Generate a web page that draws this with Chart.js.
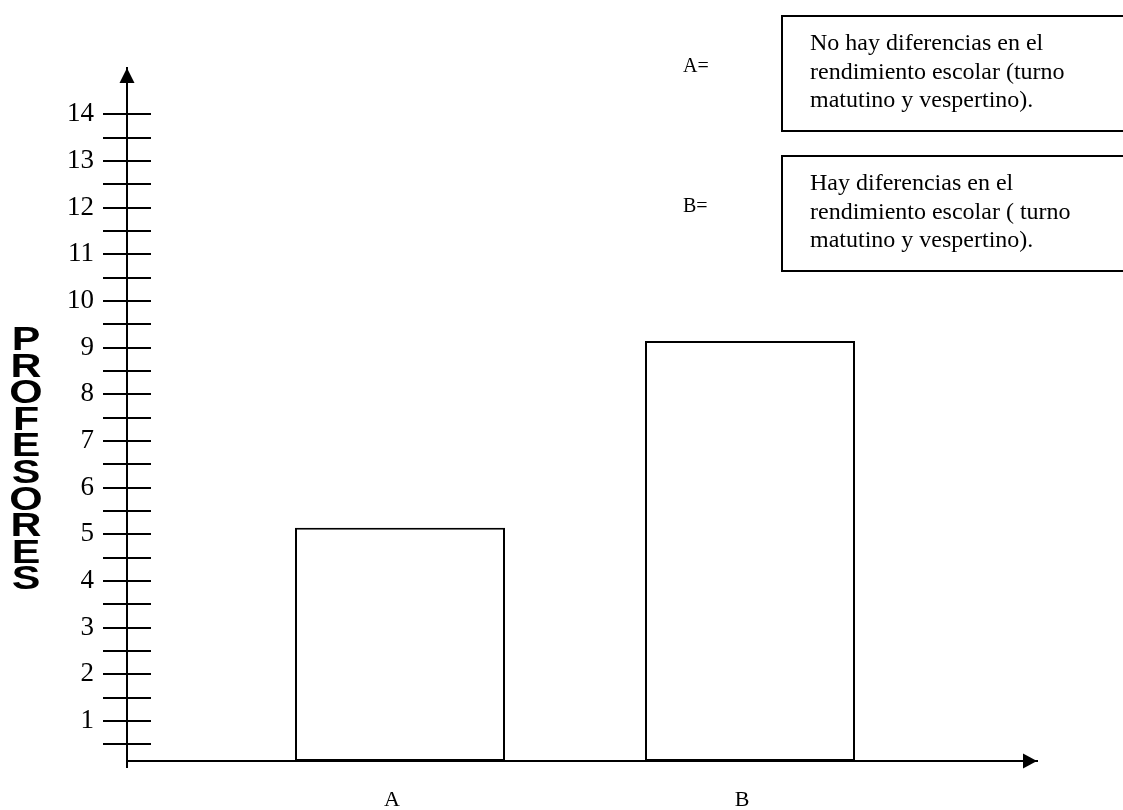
<!DOCTYPE html>
<html>
<head>
<meta charset="utf-8">
<script src="https://cdn.jsdelivr.net/npm/chart.js@4"></script>
<style>
    body { margin: 0; background: #ffffff; }
    #wrap { position: relative; width: 1123px; height: 810px; overflow: hidden; background: #ffffff; }
    #chart { position: absolute; left: 0; top: 0; }
    .key { position: absolute; left: 683px; font: 20px "Liberation Serif", serif; line-height: 20px; color: #000; }
    .box {
        position: absolute; left: 781px; width: 400px; height: 102px;
        border: 2px solid #000; box-sizing: content-box;
        padding: 11px 0 0 27px;
        font: 24px "Liberation Serif", serif; line-height: 28.5px; color: #000;
    }
    #ytitle {
        position: absolute; left: 6px; top: 326px; width: 40px;
        font: bold 33px "Liberation Sans", Arial, sans-serif; line-height: 26.6px;
        text-align: center; color: #000;
        transform: scaleX(1.3); transform-origin: center top;
    }
    #ytitle span { display: block; }
</style>
</head>
<body>
<div id="wrap">
    <canvas id="chart" width="1123" height="810"></canvas>
    <div class="key" style="top:55px">A=</div>
    <div class="box" style="top:15px">No hay diferencias en el<br>rendimiento escolar (turno<br>matutino y vespertino).</div>
    <div class="key" style="top:195px">B=</div>
    <div class="box" style="top:155px">Hay diferencias en el<br>rendimiento escolar ( turno<br>matutino y vespertino).</div>
    <div id="ytitle"></div>
</div>
<script>
// chart data
const categories = ['A', 'B'];
const values = [5, 9];
const yTickLabels = ['1', '2', '3', '4', '5', '6', '7', '8', '9', '10', '11', '12', '13', '14'];
const yTitle = 'PROFESORES';

document.getElementById('ytitle').innerHTML =
    yTitle.split('').map(ch => '<span>' + ch + '</span>').join('');

// the hand drawn axis sits slightly below the bar base
const tickShift = -0.143;
const tickLen = 24;

// right half of the crossing tick marks and the arrow heads
const axisArrows = {
    id: 'axisArrows',
    afterDraw(chart) {
        const ctx = chart.ctx;
        const y = chart.scales.y;
        const area = chart.chartArea;
        const ax = y.right;
        ctx.save();
        ctx.strokeStyle = '#000';
        ctx.fillStyle = '#000';
        ctx.lineWidth = 2;
        ctx.beginPath();
        y.ticks.forEach(t => {
            const py = Math.round(y.getPixelForValue(t.value));
            ctx.moveTo(ax, py);
            ctx.lineTo(ax + tickLen, py);
        });
        // little overhang of the vertical axis under the x axis
        ctx.moveTo(ax, area.bottom);
        ctx.lineTo(ax, area.bottom + 7);
        ctx.stroke();

        ctx.beginPath();
        ctx.moveTo(ax, area.top);
        ctx.lineTo(ax - 7.5, area.top + 15);
        ctx.lineTo(ax + 7.5, area.top + 15);
        ctx.closePath();
        ctx.fill();

        ctx.beginPath();
        ctx.moveTo(area.right, area.bottom);
        ctx.lineTo(area.right - 14, area.bottom - 7.5);
        ctx.lineTo(area.right - 14, area.bottom + 7.5);
        ctx.closePath();
        ctx.fill();
        ctx.restore();
    }
};

new Chart(document.getElementById('chart').getContext('2d'), {
    type: 'bar',
    data: {
        datasets: [{
            data: categories.map((c, i) => ({ x: i + 1, y: values[i] })),
            backgroundColor: '#ffffff',
            borderColor: '#000000',
            borderWidth: 2,
            borderSkipped: false,
            barPercentage: 0.6,
            categoryPercentage: 1
        }]
    },
    options: {
        responsive: false,
        animation: false,
        devicePixelRatio: 1,
        layout: { padding: { top: 68, right: 86, left: 0, bottom: 0 } },
        plugins: { legend: { display: false }, tooltip: { enabled: false } },
        scales: {
            x: {
                type: 'linear',
                offset: false,
                min: 0.22,
                max: 2.82,
                afterBuildTicks: s => { s.ticks = categories.map((c, i) => ({ value: i + 1 })); },
                afterFit: s => { s.height = 49; },
                grid: { display: false, drawTicks: false },
                border: { display: true, color: '#000', width: 2 },
                ticks: {
                    autoSkip: false,
                    maxRotation: 0,
                    padding: 26,
                    labelOffset: -8,
                    color: '#000',
                    font: { family: '"Liberation Serif", serif', size: 22 },
                    callback: (v, i) => categories[i]
                }
            },
            y: {
                min: 0,
                max: 14.85,
                afterBuildTicks: s => {
                    const t = [];
                    for (let k = 1; k <= yTickLabels.length * 2; k++) t.push({ value: k / 2 + tickShift });
                    s.ticks = t;
                },
                afterFit: s => { s.width = 127; },
                grid: { display: true, drawOnChartArea: false, drawTicks: true, tickLength: tickLen, color: '#000', lineWidth: 2 },
                border: { display: true, color: '#000', width: 2 },
                ticks: {
                    autoSkip: false,
                    padding: 9,
                    color: '#000',
                    font: { family: '"Liberation Serif", serif', size: 27 },
                    callback: (v, i) => {
                        const half = (i + 1) / 2;
                        return Number.isInteger(half) ? yTickLabels[half - 1] : '';
                    }
                }
            }
        }
    },
    plugins: [axisArrows]
});
</script>
</body>
</html>
